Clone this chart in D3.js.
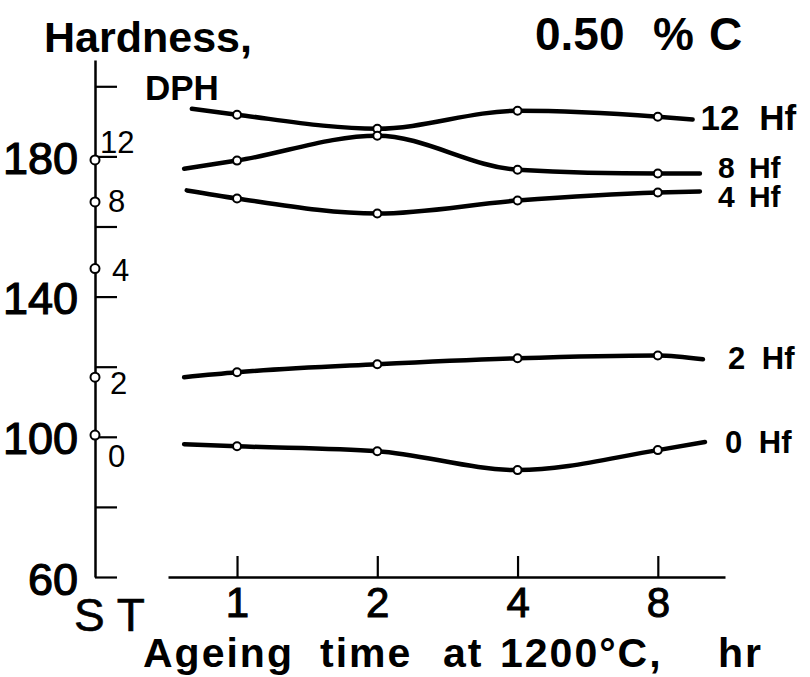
<!DOCTYPE html>
<html>
<head>
<meta charset="utf-8">
<script src="https://cdn.jsdelivr.net/npm/d3@7/dist/d3.min.js"></script>
<style>
  body { margin: 0; background: #fff; }
  svg { display: block; }
  text { font-family: "Liberation Sans", Arial, sans-serif; fill: #000; }
</style>
</head>
<body>
<div id="chart"></div>
<script>
// Ageing hours on the log axis
const ageHours = [1, 2, 4, 8];
const ageTickLabels = ["1", "2", "4", "8"];

// Hf series, hardness in DPH
const hfSeries = ["12 Hf", "8 Hf", "4 Hf", "2 Hf", "0 Hf"];
const hardness12 = [191.9, 187.9, 193.0, 191.3];
const hardness8 = [178.8, 185.9, 176.2, 175.1];
const hardness4 = [168.0, 163.7, 167.4, 169.7];
const hardness2 = [118.4, 120.7, 122.4, 123.2];
const hardness0 = [97.3, 95.9, 90.5, 96.2];

// solution treated (ST) values, plotted on the y axis
const stLabels = ["12", "8", "4", "2", "0"];
const hardnessST = [179, 167, 148, 117, 100.5];

// where each drawn line begins and ends
const lineStartHr = [0.80, 0.77, 0.78, 0.77, 0.77];
const lineStartHv = [193.6, 176.5, 170.3, 117.0, 97.9];
const lineEndHr = [9.5, 9.85, 9.85, 10.0, 10.1];
const lineEndHv = [190.5, 175.1, 170.0, 122.1, 98.5];

// y axis ticks and labels
const yTicks = [60, 80, 100, 120, 140, 160, 180, 200];
const yTickLabels = [60, 100, 140, 180];

// title words
const xTitleWords = ["Ageing", "time", "at", "1200°C,", "hr"];
const carbonWords = ["0.50", "%", "C"];

const seriesValues = [hardness12, hardness8, hardness4, hardness2, hardness0];

// label offsets and sizes (layout only)
const hfLabelDx = [8, 18, 18, 25, 20];
const hfLabelDy = [10, 4, 16, 10, 11];
const hfLabelSize = [35, 30, 30, 31, 31];
const hfLabelGap = [10, 6, 6, 8, 8];
const stLabelDx = [5, 13, 17, 15, 13];
const stLabelDy = [-7, 10, 12, 17, 32];
const xTitleWordX = [143, 320, 443, 500, 718];
const carbonWordX = [535, 653, 709];

const width = 810, height = 677;
const axisX = 95;

const svg = d3.select("#chart").append("svg")
    .attr("width", width)
    .attr("height", height);

const x = d3.scaleLog().base(2)
    .domain([0.711, 11.15])
    .range([168, 725]);

const y = d3.scaleLinear()
    .domain([60, 207.5])
    .range([577, 60]);

// Y axis: ticks pointing inward, no text
const yAxis = svg.append("g")
    .attr("transform", `translate(${axisX},0)`)
    .call(d3.axisRight(y).tickValues(yTicks).tickSize(22).tickSizeOuter(0).tickFormat(""));
yAxis.select(".domain").attr("stroke-width", 2.5);
yAxis.selectAll(".tick line").attr("stroke-width", 2.2);

// big numbers on the left
svg.append("g")
    .attr("transform", `translate(${axisX},0)`)
    .call(d3.axisLeft(y).tickValues(yTickLabels).tickSize(0).tickPadding(17))
    .call(g => g.select(".domain").remove())
    .selectAll("text")
    .attr("dy", "0.38em")
    .style("font-family", "'Liberation Sans', Arial, sans-serif")
    .style("font-size", "45px")
    .attr("fill", "#000")
    .attr("stroke", "#000")
    .attr("stroke-width", 1.2);

// X axis: ticks pointing up, labels below
const xAxis = svg.append("g")
    .attr("transform", `translate(0,${y(60)})`)
    .call(d3.axisBottom(x).tickValues(ageHours).tickSizeInner(-21).tickSizeOuter(0).tickPadding(10)
        .tickFormat((d, i) => ageTickLabels[i]));
xAxis.select(".domain").attr("stroke-width", 2.5);
xAxis.selectAll(".tick line").attr("stroke-width", 2.2);
xAxis.selectAll("text")
    .attr("dy", "0.71em")
    .style("font-family", "'Liberation Sans', Arial, sans-serif")
    .style("font-size", "42px")
    .attr("fill", "#000")
    .attr("stroke", "#000")
    .attr("stroke-width", 1);

svg.append("text")
    .attr("x", 74).attr("y", 631)
    .style("font-size", "46px")
    .attr("stroke", "#000").attr("stroke-width", 0.6)
    .text("S T");

// lines
const line = d3.line()
    .x(d => x(d[0]))
    .y(d => y(d[1]))
    .curve(d3.curveMonotoneX);

seriesValues.forEach((vals, s) => {
    const pts = [[lineStartHr[s], lineStartHv[s]]]
        .concat(ageHours.map((h, i) => [h, vals[i]]))
        .concat([[lineEndHr[s], lineEndHv[s]]]);

    svg.append("path")
        .datum(pts)
        .attr("d", line)
        .attr("fill", "none")
        .attr("stroke", "#000")
        .attr("stroke-width", 4.5)
        .attr("stroke-linecap", "round");

    svg.selectAll(null)
        .data(ageHours.map((h, i) => [h, vals[i]]))
        .enter().append("circle")
        .attr("cx", d => x(d[0]))
        .attr("cy", d => y(d[1]))
        .attr("r", 4)
        .attr("fill", "#fff")
        .attr("stroke", "#000")
        .attr("stroke-width", 2);

    svg.append("text")
        .attr("x", x(lineEndHr[s]) + hfLabelDx[s])
        .attr("y", y(lineEndHv[s]) + hfLabelDy[s])
        .style("font-size", hfLabelSize[s] + "px")
        .style("font-weight", "bold")
        .attr("word-spacing", hfLabelGap[s] + "px")
        .text(hfSeries[s]);
});

// ST points on the y axis
svg.selectAll(".st")
    .data(hardnessST)
    .enter().append("circle")
    .attr("class", "st")
    .attr("cx", axisX)
    .attr("cy", d => y(d))
    .attr("r", 4.5)
    .attr("fill", "#fff")
    .attr("stroke", "#000")
    .attr("stroke-width", 2);

svg.selectAll(".stlabel")
    .data(hardnessST)
    .enter().append("text")
    .attr("class", "stlabel")
    .attr("x", (d, i) => axisX + stLabelDx[i])
    .attr("y", (d, i) => y(d) + stLabelDy[i])
    .style("font-size", "31px")
    .text((d, i) => stLabels[i]);

// titles
svg.append("text")
    .attr("x", 44).attr("y", 52)
    .style("font-size", "43px")
    .style("font-weight", "bold")
    .text("Hardness,");

svg.append("text")
    .attr("x", 145).attr("y", 100)
    .style("font-size", "35px")
    .style("font-weight", "bold")
    .text("DPH");

svg.append("text")
    .attr("y", 50)
    .style("font-size", "46px")
    .style("font-weight", "bold")
    .selectAll("tspan")
    .data(carbonWords)
    .enter().append("tspan")
    .attr("x", (d, i) => carbonWordX[i])
    .text(d => d);

svg.append("text")
    .attr("y", 667)
    .style("font-size", "41px")
    .style("font-weight", "bold")
    .attr("letter-spacing", "2px")
    .selectAll("tspan")
    .data(xTitleWords)
    .enter().append("tspan")
    .attr("x", (d, i) => xTitleWordX[i])
    .text(d => d);
</script>
</body>
</html>
